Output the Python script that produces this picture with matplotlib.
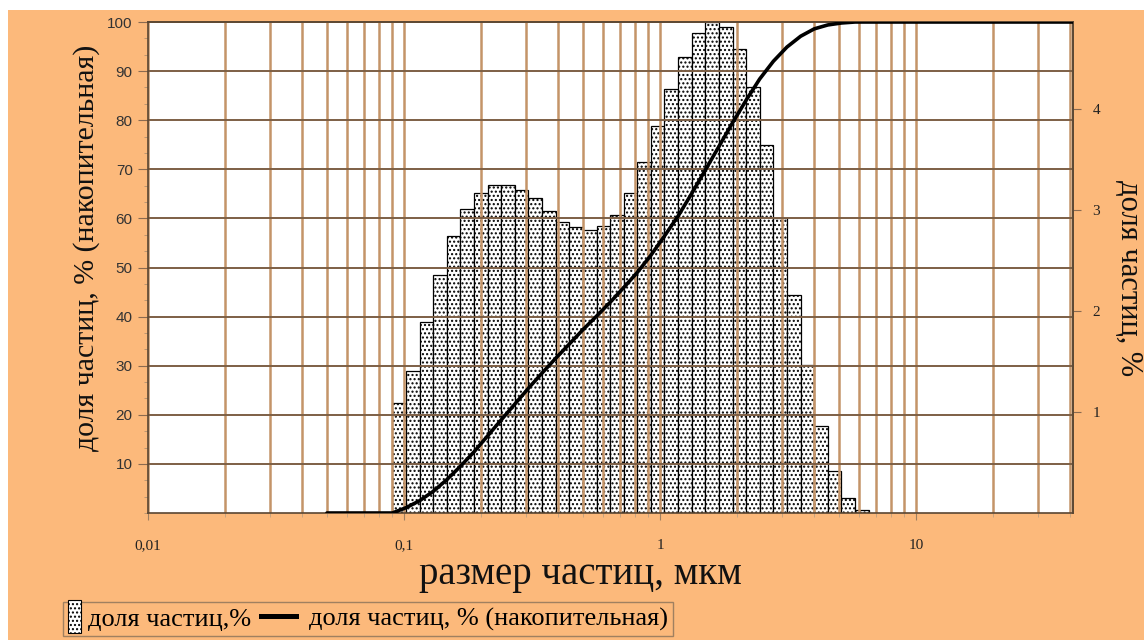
import matplotlib
matplotlib.use("Agg")
import numpy as np
import matplotlib.pyplot as plt
import matplotlib.patches as mpatches
from matplotlib.lines import Line2D
from matplotlib.legend_handler import HandlerPatch
from matplotlib.ticker import FixedLocator, LogLocator, NullFormatter, MultipleLocator

# границы классов (мкм)
bin_edges = [0.090, 0.102, 0.115, 0.130, 0.147, 0.166, 0.188, 0.212, 0.240, 0.271,
             0.306, 0.346, 0.391, 0.442, 0.499, 0.565, 0.638, 0.721, 0.815, 0.921,
             1.04, 1.18, 1.33, 1.50, 1.70, 1.92, 2.17, 2.45, 2.77, 3.13,
             3.54, 4.00, 4.52, 5.11, 5.78, 6.53]

# доля частиц, % (правая ось)
fraction = [1.09, 1.41, 1.89, 2.36, 2.74, 3.01, 3.17, 3.25, 3.25, 3.20,
            3.12, 2.99, 2.88, 2.83, 2.80, 2.84, 2.95, 3.17, 3.47, 3.83,
            4.20, 4.51, 4.75, 4.86, 4.81, 4.59, 4.22, 3.64, 2.92, 2.16,
            1.46, 0.86, 0.42, 0.15, 0.03]

# накопительная кривая, % (левая ось)
cum_size = [0.05, 0.090, 0.102, 0.115, 0.130, 0.147, 0.166, 0.188, 0.212, 0.240, 0.271,
            0.306, 0.346, 0.391, 0.442, 0.499, 0.565, 0.638, 0.721, 0.815, 0.921,
            1.04, 1.18, 1.33, 1.50, 1.70, 1.92, 2.17, 2.45, 2.77, 3.13,
            3.54, 4.00, 4.52, 5.11, 5.78, 6.53, 41]
cum_pct = [0, 0, 1.1, 2.5, 4.4, 6.8, 9.5, 12.5, 15.7, 19.0, 22.2,
           25.4, 28.5, 31.5, 34.4, 37.3, 40.1, 42.9, 45.9, 49.0, 52.5,
           56.4, 60.6, 65.1, 69.8, 74.7, 79.5, 84.1, 88.4, 92.0, 94.9,
           97.1, 98.6, 99.4, 99.8, 100.0, 100.0, 100.0]

left_ticks = [10, 20, 30, 40, 50, 60, 70, 80, 90, 100]
right_ticks = [1, 2, 3, 4]
x_ticks = [0.01, 0.1, 1, 10]
x_ticklabels = ["0,01", "0,1", "1", "10"]

bg = "#fcb97b"
vgrid = "#c49468"
hgrid = "#7d5f45"
serif = "Liberation Serif"
plt.rcParams["hatch.linewidth"] = 1.0

fig = plt.figure(figsize=(11.44, 6.4), dpi=100)
fig.patch.set_facecolor("white")
fig.patches.append(mpatches.Rectangle((8 / 1144, 0), 1 - 8 / 1144, 630 / 640,
                                      transform=fig.transFigure, facecolor=bg,
                                      edgecolor="none", zorder=-10))

pos = [148 / 1144, 1 - 513 / 640, (1073 - 148) / 1144, (513 - 22) / 640]
ax = fig.add_axes(pos)
ax2 = ax.twinx()
ax.set_zorder(2)
ax2.set_zorder(1)
ax.patch.set_visible(False)
ax2.patch.set_visible(True)
ax2.patch.set_facecolor("white")

# гистограмма
ax2.bar(bin_edges[:-1], fraction, width=np.diff(bin_edges), align="edge",
        facecolor="white", edgecolor="black", linewidth=0.9, hatch="....")
ax2.set_ylim(0, 4.86)
ax2.set_yticks(right_ticks)
ax2.set_yticklabels([str(t) for t in right_ticks], family=serif, fontsize=11, color="#222222")
ax2.tick_params(axis="y", length=6, width=0.8, color="#8a6a50", pad=8)
ax2.set_ylabel("доля частиц, %", rotation=270, family=serif, fontsize=22,
               color="#111111", ha="center", va="center", rotation_mode="default")
ax2.yaxis.set_label_coords(1.0595, 0.479)

# накопительная
ax.plot(cum_size, cum_pct, color="black", linewidth=2.6, solid_capstyle="round", zorder=5)

ax.set_xscale("log")
ax.set_xlim(0.01, 41)
ax.set_ylim(0, 100)
ax.set_yticks(left_ticks)
ax.set_yticklabels([str(t) for t in left_ticks], family="Liberation Sans", fontsize=11,
                   color="#333333")
ax.yaxis.set_minor_locator(MultipleLocator(10 / 3))
ax.tick_params(axis="y", which="major", length=7, width=0.8, color="#8a6a50", pad=4)
ax.tick_params(axis="y", which="minor", length=3, width=0.6, color="#b09070")

ax.xaxis.set_major_locator(FixedLocator(x_ticks))
ax.set_xticklabels(x_ticklabels, family=serif, fontsize=11, color="#222222")
ax.xaxis.set_minor_locator(LogLocator(base=10, subs=np.arange(2, 10), numticks=20))
ax.xaxis.set_minor_formatter(NullFormatter())
ax.tick_params(axis="x", which="major", length=5, width=0.8, color="#a08060", pad=14)
ax.tick_params(axis="x", which="minor", length=3, width=0.6, color="#c0a080")

ax.grid(True, which="both", axis="x", color=vgrid, linewidth=1.8)
ax.grid(True, which="major", axis="y", color=hgrid, linewidth=1.4)

for a in (ax, ax2):
    for s in a.spines.values():
        s.set_color("#5a4632")
        s.set_linewidth(1.2)
ax2.spines["left"].set_visible(False)
ax2.spines["bottom"].set_visible(False)

ax.set_xlabel("размер частиц, мкм", family=serif, fontsize=28, color="#111111",
              va="center", ha="center")
ax.xaxis.set_label_coords(0.467, -0.126)
ax.set_ylabel("доля частиц, % (накопительная)", family=serif, fontsize=21.5,
              color="#111111", ha="center", va="center", rotation_mode="default")
ax.yaxis.set_label_coords(-0.066, 0.54)


# узкий столбик в легенде
def narrow_patch(legend, orig_handle, xdescent, ydescent, width, height, fontsize):
    return mpatches.Rectangle((-xdescent, -ydescent - height * 0.4),
                              width, height * 1.8)


# толстая линия в легенде, длиннее самого поля значка
def long_line(legend, orig_handle, xdescent, ydescent, width, height, fontsize):
    return mpatches.Rectangle((-xdescent - 21.6, -ydescent + height * 0.5 - 2.0),
                              28.8, 4.0)


bar_handle = mpatches.Patch(facecolor="white", edgecolor="black", hatch="....", linewidth=0.8)
line_handle = mpatches.Patch(facecolor="black", edgecolor="none")
leg = fig.legend([bar_handle, line_handle],
                 ["доля частиц,%", "доля частиц, % (накопительная)"],
                 loc="lower left", bbox_to_anchor=(60 / 1144, 1 / 640), ncol=2,
                 prop={"family": serif, "size": 19}, frameon=True, fancybox=False,
                 handlelength=0.48, handletextpad=0.3, columnspacing=1.4,
                 borderpad=0.2, borderaxespad=0.1,
                 handler_map={bar_handle: HandlerPatch(patch_func=narrow_patch),
                              line_handle: HandlerPatch(patch_func=long_line)})
leg.get_frame().set_facecolor(bg)
leg.get_frame().set_edgecolor("#a08060")
leg.get_frame().set_linewidth(1.0)
leg.get_frame().set_alpha(1)

fig.savefig("out.png", dpi=100, facecolor=fig.get_facecolor())
